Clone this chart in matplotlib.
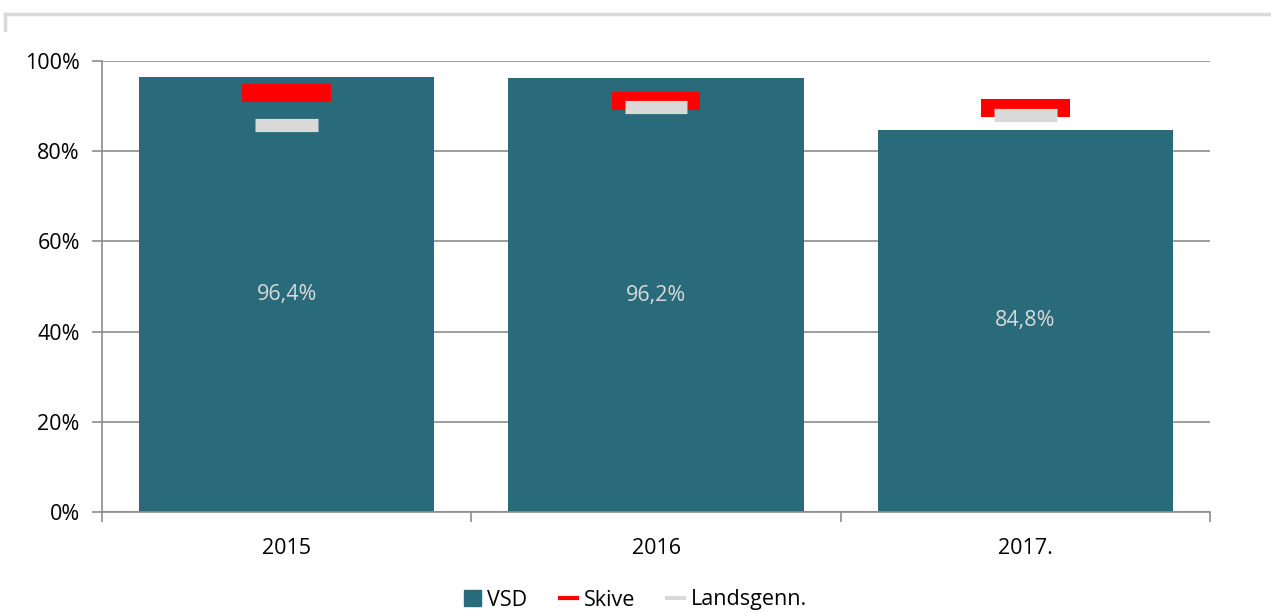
import matplotlib
matplotlib.use('Agg')
from matplotlib import pyplot as plot
from matplotlib.lines import Line2D
from matplotlib.patches import Patch
import numpy as np

# data
years = ['2015', '2016', '2017.']
vsd = [96.4, 96.2, 84.8]
skive = [92.9, 91.1, 89.6]
landsgenn = [85.8, 89.7, 88.0]
bar_labels = ['96,4%', '96,2%', '84,8%']

plot.rcParams['font.family'] = ['Open Sans', 'DejaVu Sans']

bar_color = '#296b7b'
grid_color = '#8c8c8c'
fs = 15.5

fig = plot.figure(figsize=(12.71, 6.12), dpi=100)
ax = fig.add_axes([0.0803, 0.1634, 0.8717, 0.7369])

x = np.arange(len(years))
ax.bar(x, vsd, width=0.8, color=bar_color, zorder=2)
ax.hlines(skive, x - 0.12, x + 0.12, colors='#ff0000', linewidth=13, zorder=3, capstyle='butt')
ax.hlines(landsgenn, x - 0.085, x + 0.085, colors='#d9d9d9', linewidth=9.5, zorder=4, capstyle='butt')

for i in range(len(years)):
    ax.text(x[i], vsd[i] / 2, bar_labels[i], ha='center', va='center', color='#d9d9d9', fontsize=fs, zorder=5)

ax.set_xlim(-0.5, 2.5)
ax.set_ylim(0, 100)
ax.set_yticks([0, 20, 40, 60, 80, 100])
ax.set_yticklabels(['0%', '20%', '40%', '60%', '80%', '100%'], fontsize=fs)
ax.set_xticks(x)
ax.set_xticklabels(years, fontsize=fs)
ax.tick_params(axis='x', length=0, pad=19)
ax.set_xticks([-0.5, 0.5, 1.5, 2.5], minor=True)
ax.tick_params(axis='x', which='minor', length=7, color=grid_color, width=1.2)
ax.tick_params(axis='y', length=7, color=grid_color, width=1.2, pad=9)
ax.grid(axis='y', color=grid_color, linewidth=1.2, zorder=0)
ax.spines['top'].set_visible(False)
ax.spines['right'].set_visible(False)
ax.spines['left'].set_color(grid_color)
ax.spines['bottom'].set_color(grid_color)
ax.spines['left'].set_linewidth(1.2)
ax.spines['bottom'].set_linewidth(1.2)

# frame remnant at top left
fig.add_artist(Line2D([5 / 1271, 1.0], [1 - 14 / 612, 1 - 14 / 612], color='#d9d9d9', linewidth=2.5))
fig.add_artist(Line2D([5 / 1271, 5 / 1271], [1 - 14 / 612, 1 - 30 / 612], color='#d9d9d9', linewidth=2.5))

handles = [Patch(color=bar_color, label='VSD'),
           Line2D([0], [0], color='#ff0000', linewidth=3, label='Skive'),
           Line2D([0], [0], color='#d9d9d9', linewidth=3, label='Landsgenn.')]
fig.legend(handles=handles, loc='center', bbox_to_anchor=(0.5, 1 - 600 / 612), ncol=3, frameon=False,
           fontsize=fs, handlelength=0.8, handleheight=0.8, handletextpad=0.3, columnspacing=1.5,
           borderaxespad=0, borderpad=0)

fig.savefig('out.png', dpi=100)
